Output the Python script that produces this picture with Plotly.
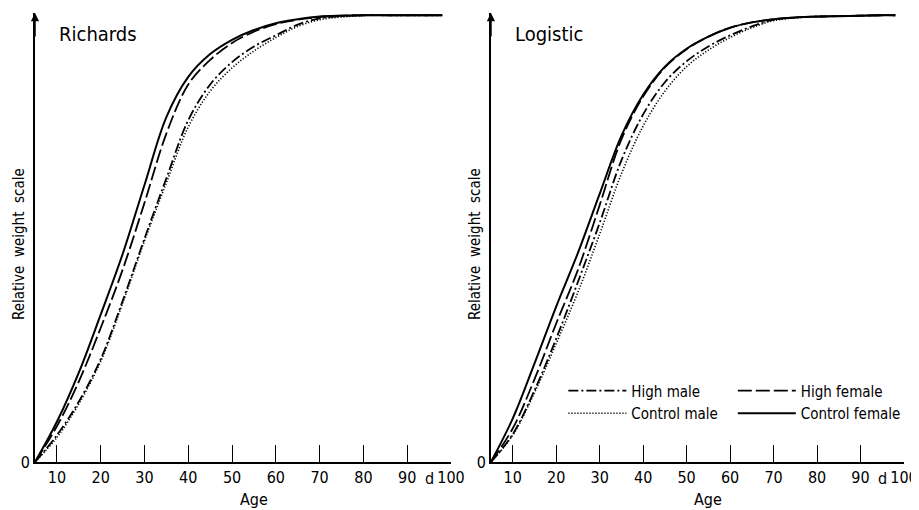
import plotly.graph_objects as go

ages = [5, 10, 15, 20, 25, 30, 35, 40, 45, 50, 55, 60, 65, 70, 75, 80, 85, 90, 95, 98]

rich_control_female = [0, 0.09, 0.20, 0.33, 0.465, 0.62, 0.772, 0.862, 0.913, 0.945, 0.967, 0.982, 0.991, 0.997, 0.999, 1, 1, 1, 1, 1]
rich_high_female = [0, 0.08, 0.18, 0.30, 0.43, 0.58, 0.735, 0.845, 0.90, 0.938, 0.963, 0.98, 0.99, 0.996, 0.999, 1, 1, 1, 1, 1]
rich_high_male = [0, 0.06, 0.135, 0.23, 0.36, 0.50, 0.635, 0.765, 0.845, 0.895, 0.93, 0.955, 0.979, 0.993, 0.998, 1, 1, 1, 1, 1]
rich_control_male = [0, 0.055, 0.13, 0.225, 0.355, 0.495, 0.625, 0.75, 0.83, 0.882, 0.92, 0.95, 0.975, 0.99, 0.996, 0.999, 1, 1, 1, 1]

log_control_female = [0, 0.097, 0.22, 0.348, 0.468, 0.60, 0.73, 0.822, 0.885, 0.925, 0.952, 0.972, 0.984, 0.991, 0.995, 0.997, 0.998, 0.999, 1, 1]
log_high_female = [0, 0.075, 0.185, 0.31, 0.43, 0.575, 0.722, 0.818, 0.883, 0.924, 0.952, 0.972, 0.984, 0.991, 0.995, 0.997, 0.998, 0.999, 1, 1]
log_high_male = [0, 0.062, 0.16, 0.276, 0.403, 0.535, 0.675, 0.778, 0.85, 0.897, 0.93, 0.955, 0.975, 0.99, 0.995, 0.997, 0.998, 0.999, 1, 1]
log_control_male = [0, 0.06, 0.155, 0.265, 0.38, 0.51, 0.645, 0.752, 0.83, 0.885, 0.922, 0.95, 0.972, 0.988, 0.994, 0.997, 0.998, 0.999, 1, 1]

x_ticks = [10, 20, 30, 40, 50, 60, 70, 80, 90, 100]
x_ticktext = ["10", "20", "30", "40", "50", "60", "70", "80", "90", "100"]
panel_titles = ["Richards", "Logistic"]
series_names = ["High male", "Control male", "High female", "Control female"]

FONT = "DejaVu Sans Condensed, Liberation Sans Narrow, DejaVu Sans, sans-serif"

styles = {
    "High male": dict(dash="10px,3px,2px,3px", width=1.8),
    "Control male": dict(dash="1.2px,1.8px", width=1.6),
    "High female": dict(dash="14px,4px", width=1.8),
    "Control female": dict(dash="solid", width=2),
}
legend_of = {"High male": "legend", "Control male": "legend",
             "High female": "legend2", "Control female": "legend2"}

data = {
    "x": {"High male": rich_high_male, "Control male": rich_control_male,
          "High female": rich_high_female, "Control female": rich_control_female},
    "x2": {"High male": log_high_male, "Control male": log_control_male,
           "High female": log_high_female, "Control female": log_control_female},
}

fig = go.Figure()
for xa, ya, show in [("x", "y", False), ("x2", "y2", True)]:
    for name in series_names:
        st = styles[name]
        fig.add_trace(go.Scatter(
            x=ages, y=data[xa][name], mode="lines", name=name,
            line=dict(color="black", width=st["width"], dash=st["dash"],
                      shape="spline", smoothing=1.0),
            xaxis=xa, yaxis=ya, showlegend=show, legend=legend_of[name],
        ))

axis_common = dict(
    range=[5, 100], tickvals=x_ticks, ticktext=x_ticktext,
    showline=True, linecolor="black", linewidth=1.5,
    ticks="inside", ticklen=17, tickwidth=1.2, tickcolor="black",
    showgrid=False, zeroline=False, automargin=False,
    tickfont=dict(family=FONT, size=16, color="black"),
)
yaxis_common = dict(
    range=[0, 1.005], tickvals=[0], ticktext=["0"], ticks="",
    showline=True, linecolor="black", linewidth=1.8,
    showgrid=False, zeroline=False, automargin=False,
    tickfont=dict(family=FONT, size=16, color="black"),
)

# page body adds an 8px offset, so the figure is sized/margined to compensate
fig.update_layout(
    width=911, height=502,
    margin=dict(l=27, r=15, t=5, b=48, autoexpand=False),
    paper_bgcolor="white", plot_bgcolor="white",
    xaxis=dict(domain=[0, 0.4787], anchor="y", **axis_common),
    xaxis2=dict(domain=[0.5247, 1], anchor="y2", **axis_common),
    yaxis=dict(domain=[0, 1], anchor="x", **yaxis_common),
    yaxis2=dict(domain=[0, 1], anchor="x2", **yaxis_common),
    font=dict(family=FONT, size=15, color="black"),
    legend=dict(x=0.608, y=0.195, xanchor="left", yanchor="top",
                bgcolor="rgba(0,0,0,0)", itemwidth=58, tracegroupgap=0,
                font=dict(family=FONT, size=15, color="black")),
    legend2=dict(x=0.803, y=0.195, xanchor="left", yanchor="top",
                 bgcolor="rgba(0,0,0,0)", itemwidth=58, tracegroupgap=0,
                 font=dict(family=FONT, size=15, color="black")),
    showlegend=True,
)

annotations = []
for i, (xr, yr) in enumerate([("x", "y"), ("x2", "y2")]):
    annotations.append(dict(x=10, y=0.958, xref=xr, yref=yr, text=panel_titles[i],
                            showarrow=False, xanchor="left", yanchor="middle",
                            font=dict(family=FONT, size=20, color="black")))
    annotations.append(dict(x=55, y=0, xref=xr, yref=yr, text="Age",
                            showarrow=False, xanchor="center", yanchor="middle",
                            yshift=-37, font=dict(family=FONT, size=16, color="black")))
    annotations.append(dict(x=95, y=0, xref=xr, yref=yr, text="d",
                            showarrow=False, xanchor="center", yanchor="middle",
                            yshift=-16, font=dict(family=FONT, size=16, color="black")))
    annotations.append(dict(x=5, y=0.488, xref=xr, yref=yr, text="Relative  weight  scale",
                            showarrow=False, xanchor="center", yanchor="middle",
                            textangle=-90, xshift=-16,
                            font=dict(family=FONT, size=15, color="black")))
    annotations.append(dict(x=5, y=1.005, xref=xr, yref=yr, text="",
                            showarrow=True, arrowhead=2, arrowsize=1.1, arrowwidth=1.5,
                            arrowcolor="black", ax=0, ay=25, axref="pixel", ayref="pixel"))
fig.update_layout(annotations=annotations)

fig.write_html("out.html")
